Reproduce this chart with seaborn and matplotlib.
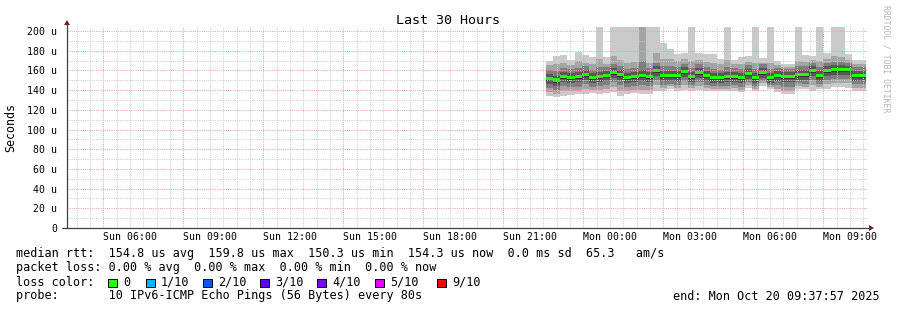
import numpy as np
import pandas as pd
import matplotlib
matplotlib.use("Agg")
import matplotlib.pyplot as plt
import seaborn as sns
from matplotlib.lines import Line2D
from matplotlib.patches import Rectangle, Polygon

# ---------------- data ----------------
step_minutes = 16
first_step_hour = 21.6          # hours since Sun 00:00
x_start_hour = 3.6325           # Sun 03:37:57
x_end_hour = 33.6325            # Mon 09:37:57

median = [152,150,154,153,154,156,153,154,155,158, 156,153,154,155,154,160,155,155,155,159,
          154,158,155,153,153,154,154,153,157,153, 158,153,155,154,154,156,156,160,155,160,
          161,161,161,155,155]
ping10 = [170,175,176,171,179,176,174,210,174,210, 210,210,210,210,210,210,188,182,177,178,
          210,178,177,177,172,210,171,174,175,210, 173,210,170,167,167,210,176,175,210,178,
          210,210,177,171,171]
ping9 = [165,166,168,165,170,168,166,172,167,175, 171,168,169,210,168,178,172,172,170,172,
         170,171,169,168,166,171,166,166,169,168, 168,168,165,163,163,170,169,171,170,172,
         175,174,171,166,166]
ping8 = [160,159,162,161,162,164,160,163,163,166, 164,161,162,170,162,168,164,164,163,167,
         162,166,163,161,160,163,162,161,165,161, 166,161,162,161,161,164,164,168,163,168,
         169,169,168,163,163]
ping7 = [156,154,158,157,158,160,157,158,159,162, 160,157,158,160,158,164,159,159,159,163,
         158,162,159,157,157,158,158,157,161,157, 162,157,159,158,158,160,160,164,159,164,
         165,165,164,159,159]
ping6 = [153,151,155,154,155,157,154,155,156,159, 157,154,155,156,155,161,156,156,156,160,
         155,159,156,154,154,155,155,154,158,154, 159,154,156,155,155,157,157,161,156,161,
         162,162,162,156,156]
ping5 = [149,147,151,150,151,153,150,151,152,155, 153,150,151,152,151,157,152,152,152,156,
         151,155,152,150,150,151,151,150,154,150, 155,150,152,151,151,153,153,157,152,157,
         158,158,158,152,152]
ping4 = [146,144,148,147,148,150,147,148,149,152, 150,147,148,149,148,154,149,149,149,153,
         148,152,149,147,147,148,148,147,151,147, 152,147,149,148,148,150,150,154,149,154,
         155,155,155,149,149]
ping3 = [142,140,144,143,143,146,143,144,145,148, 145,143,144,145,144,150,145,146,145,149,
         145,148,145,144,144,144,145,143,148,144, 149,145,145,143,143,147,146,150,146,150,
         151,151,151,146,146]
ping2 = [138,136,139,139,139,141,140,140,141,143, 139,139,140,140,140,145,142,144,142,145,
         142,144,142,141,141,141,142,140,145,141, 147,143,141,139,139,144,143,145,143,146,
         147,147,147,142,142]
ping1 = [134,133,134,135,136,136,137,136,137,138, 134,136,137,136,136,139,139,141,139,140,
         139,140,139,139,139,139,139,138,142,139, 144,141,138,136,136,141,141,139,141,141,
         143,143,142,139,139]

x_label_hours = [6, 9, 12, 15, 18, 21, 24, 27, 30, 33]
x_labels = ["Sun 06:00", "Sun 09:00", "Sun 12:00", "Sun 15:00", "Sun 18:00",
            "Sun 21:00", "Mon 00:00", "Mon 03:00", "Mon 06:00", "Mon 09:00"]
x_major_grid_hours = [5, 8, 11, 14, 17, 20, 23, 26, 29, 32]
y_ticks = [0, 20, 40, 60, 80, 100, 120, 140, 160, 180, 200]
y_labels = ["0", "20 u", "40 u", "60 u", "80 u", "100 u", "120 u", "140 u", "160 u", "180 u", "200 u"]

loss_labels = ["0", "1/10", "2/10", "3/10", "4/10", "5/10", "9/10"]
loss_colors = ["#26ff00", "#00b8ff", "#0059ff", "#5e00ff", "#7e00ff", "#dd00ff", "#ff0000"]
smoke_colors = ["#cacaca", "#a4a4a4", "#7e7e7e", "#585858", "#323232"]

# ---------------- figure ----------------
sns.set_theme(style="white")
plt.rcParams["font.family"] = ["DejaVu Sans Mono"]

W, H = 897, 310
fig = plt.figure(figsize=(W / 100, H / 100), dpi=100)
fig.patch.set_facecolor("white")

def fx(x):
    return x / W

def fy(y):
    return 1 - y / H

ax_left, ax_right, ax_top, ax_bottom = 67, 867, 27, 228
ax = fig.add_axes([fx(ax_left), fy(ax_bottom), (ax_right - ax_left) / W, (ax_bottom - ax_top) / H])
ax.set_facecolor("white")
ymax = (ax_bottom - ax_top) * 200 / 197
ax.set_xlim(x_start_hour, x_end_hour)
ax.set_ylim(0, ymax)
sns.despine(ax=ax, left=True, bottom=True)

n = len(median)
hours = first_step_hour + np.arange(n) * step_minutes / 60.0
df = pd.DataFrame({"hour": hours, "median": median,
                   "p1": ping1, "p2": ping2, "p3": ping3, "p4": ping4, "p5": ping5,
                   "p6": ping6, "p7": ping7, "p8": ping8, "p9": ping9, "p10": ping10})
edges = np.append(df["hour"].values, df["hour"].values[-1] + step_minutes / 60.0)

def ext(col):
    v = df[col].values.astype(float)
    return np.append(v, v[-1])

pairs = [("p1", "p10"), ("p2", "p9"), ("p3", "p8"), ("p4", "p7"), ("p5", "p6")]
for i, ((lo, hi), c) in enumerate(zip(pairs, smoke_colors)):
    ax.fill_between(edges, ext(lo), ext(hi), step="post", color=c, lw=0, zorder=1 + i * 0.01)

med = ext("median")
ax.fill_between(edges, med - 1.8, med + 1.8, step="post", color=loss_colors[0], lw=0, zorder=4)

# grid
ax.set_xticks(x_major_grid_hours)
ax.set_xticks(np.arange(4.0, 33.6, 0.5), minor=True)
ax.set_xticklabels([])
ax.set_yticks(y_ticks)
ax.set_yticklabels(y_labels, fontsize=7.1)
ax.set_yticks(np.arange(10, 201, 20), minor=True)
major_c = "#eea2a2"
minor_c = "#cdcdcd"
ax.grid(True, which="major", color=major_c, ls=(0, (1, 1.2)), lw=0.72)
ax.grid(True, which="minor", color=minor_c, ls=(0, (1, 1.2)), lw=0.72)
ax.set_axisbelow(False)
ax.tick_params(axis="x", which="major", direction="out", length=3, width=0.8, color=major_c)
ax.tick_params(axis="x", which="minor", direction="out", length=2, width=0.8, color=minor_c)
ax.tick_params(axis="y", which="major", direction="out", length=4, width=0.8, color="#404040",
               pad=3, labelcolor="black")
ax.tick_params(axis="y", which="minor", direction="out", length=2, width=0.8, color=minor_c)

for h, lab in zip(x_label_hours, x_labels):
    ax.annotate(lab, xy=(h, 0), xycoords=("data", "axes fraction"),
                xytext=(0, -12 * 0.72), textcoords="offset points",
                ha="center", va="baseline", fontsize=7.1, color="black")

# axes lines and arrows
axis_c = "#404040"
arrow_c = "#7a1a1a"
fig.add_artist(Line2D([fx(62), fx(870)], [fy(228), fy(228)], color=axis_c, lw=0.9))
fig.add_artist(Line2D([fx(67), fx(67)], [fy(228), fy(24)], color=axis_c, lw=0.9))
fig.add_artist(Polygon([[fx(869), fy(225)], [fx(869), fy(231)], [fx(874), fy(228)]],
                       closed=True, color=arrow_c, lw=0))
fig.add_artist(Polygon([[fx(64), fy(25)], [fx(70), fy(25)], [fx(67), fy(20)]],
                       closed=True, color=arrow_c, lw=0))

# titles
fig.text(fx(448), fy(23.5), "Last 30 Hours", ha="center", va="baseline", fontsize=9.6, color="black")
fig.text(fx(11), fy(127), "Seconds", ha="center", va="center", rotation=90, fontsize=8.4, color="black")
fig.text(fx(886), fy(5), "RRDTOOL / TOBI OETIKER", ha="center", va="top", rotation=270,
         fontsize=5.9, color="#b4b4b4")

# legend lines
fs = 8.5
fig.text(fx(16), fy(257.5),
         "median rtt:  154.8 us avg  159.8 us max  150.3 us min  154.3 us now  0.0 ms sd  65.3   am/s",
         ha="left", va="baseline", fontsize=fs, color="black")
fig.text(fx(16), fy(271.5), "packet loss: 0.00 % avg  0.00 % max  0.00 % min  0.00 % now",
         ha="left", va="baseline", fontsize=fs, color="black")
fig.text(fx(16), fy(285.5), "loss color:", ha="left", va="baseline", fontsize=fs, color="black")
sq_x = [108, 146, 203, 260, 317, 375, 437]
for x0, lab, c in zip(sq_x, loss_labels, loss_colors):
    fig.add_artist(Rectangle((fx(x0), fy(287)), 8.5 / W, 8.5 / H, facecolor=c,
                             edgecolor="black", lw=0.7))
    fig.text(fx(x0 + 15), fy(285.5), lab, ha="left", va="baseline", fontsize=fs, color="black")
fig.text(fx(16), fy(299.5), "probe:       10 IPv6-ICMP Echo Pings (56 Bytes) every 80s",
         ha="left", va="baseline", fontsize=fs, color="black")
fig.text(fx(880), fy(299.5), "end: Mon Oct 20 09:37:57 2025", ha="right", va="baseline",
         fontsize=fs, color="black")

fig.savefig("out.png", dpi=100, facecolor="white")
